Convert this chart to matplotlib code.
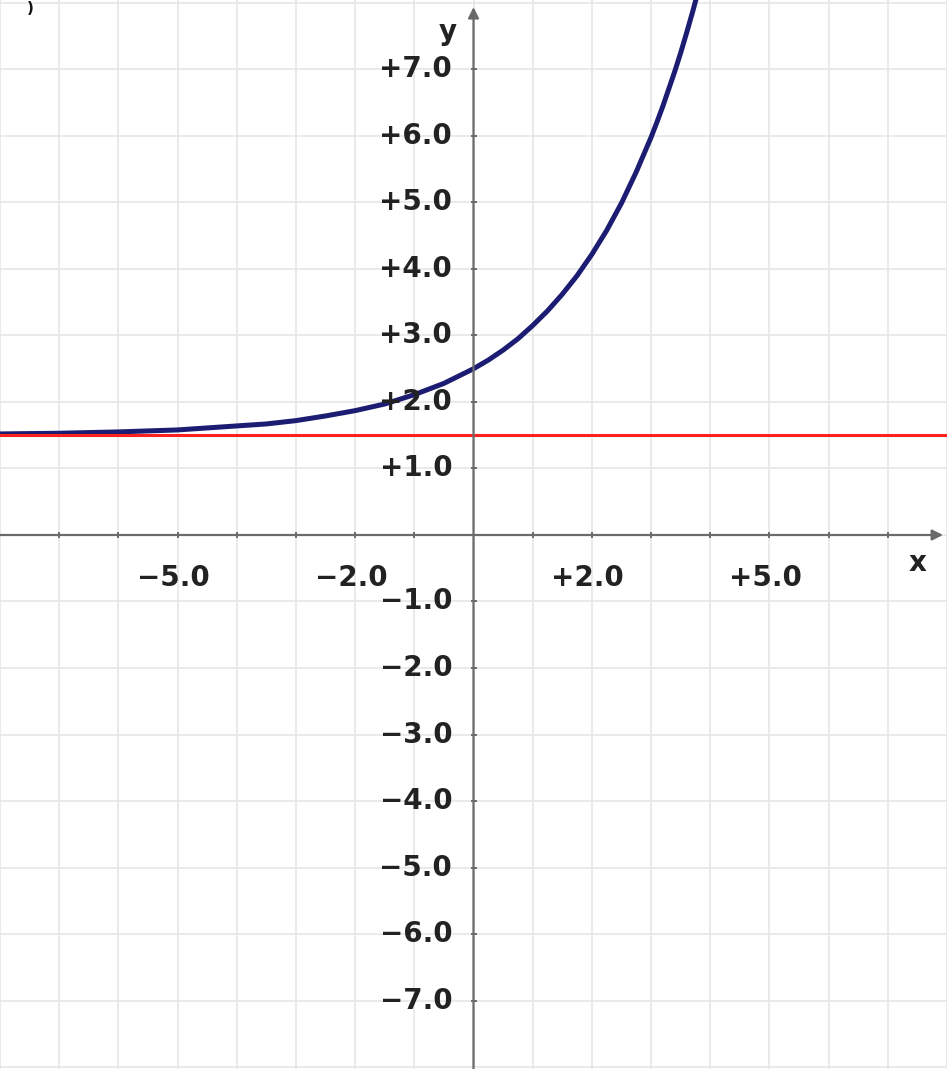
import matplotlib
matplotlib.use("Agg")
import matplotlib.pyplot as plt

# curve values (blue line)
curve_x = [-8, -7, -6, -5, -4, -3.5, -3, -2.5, -2, -1.5, -1, -0.5, 0, 0.25, 0.5, 0.75, 1,
           1.25, 1.5, 1.75, 2, 2.25, 2.5, 2.75, 3, 3.1, 3.2, 3.3, 3.4, 3.5, 3.6, 3.7, 3.8]
curve_y = [1.52, 1.53, 1.55, 1.58, 1.64, 1.67, 1.72, 1.79, 1.87, 1.97, 2.11, 2.28, 2.50, 2.63, 2.78, 2.95, 3.15,
           3.37, 3.62, 3.90, 4.22, 4.58, 4.99, 5.46, 5.98, 6.21, 6.45, 6.71, 6.97, 7.25, 7.55, 7.86, 8.19]
asymptote = 1.5  # red line

# tick labels
x_label_vals = [-5, -2, 2, 5]
y_label_vals = [7, 6, 5, 4, 3, 2, 1, -1, -2, -3, -4, -5, -6, -7]
grid_x = list(range(-8, 9))
grid_y = list(range(-8, 9))

def fmt(v):
    return ("+" if v > 0 else "\u2212") + "%.1f" % abs(v)

fig = plt.figure(figsize=(9.47, 10.69), dpi=100)
ax = fig.add_axes([0, 0, 1, 1])
ax.set_xlim(-8, 8)
ax.set_ylim(-8.03, 8.045)

#grid
ax.set_xticks(grid_x)
ax.set_yticks(grid_y)
ax.grid(True, color="#e6e6e6", lw=1.2)
ax.tick_params(length=0, labelbottom=False, labelleft=False)
for s in ax.spines.values():
    s.set_visible(False)

#axes with arrows
axcol = "#6a6a6a"
ax.annotate("", xy=(7.98, 0), xytext=(-8.1, 0),
            arrowprops=dict(arrowstyle="-|>", color=axcol, lw=1.6, mutation_scale=16))
ax.annotate("", xy=(0, 7.98), xytext=(0, -8.2),
            arrowprops=dict(arrowstyle="-|>", color=axcol, lw=1.6, mutation_scale=16))
ax.plot([v for v in grid_x if v not in (-8, 0, 8)], [0] * 14, "|", color=axcol, ms=5, mew=1.4)
ax.plot([0] * 14, [v for v in grid_y if v not in (-8, 0, 8)], "_", color=axcol, ms=5, mew=1.4)

#curves
ax.plot(curve_x, curve_y, color="#1c1c72", lw=3.6, solid_capstyle="round", solid_joinstyle="round")
ax.axhline(asymptote, color="#ff2020", lw=2.2)

#labels
tcol = "#222222"
for v in x_label_vals:
    ax.text(v - 0.07, -0.65, fmt(v), ha="center", va="center", fontsize=20,
            fontweight="bold", color=tcol)
for v in y_label_vals:
    ax.text(-0.36, v, fmt(v), ha="right", va="center", fontsize=20,
            fontweight="bold", color=tcol)
ax.text(-0.44, 7.56, "y", ha="center", va="center", fontsize=20, fontweight="bold", color=tcol)
ax.text(7.5, -0.42, "x", ha="center", va="center", fontsize=20, fontweight="bold", color=tcol)
fig.text(0.032, 0.999, ")", ha="center", va="top", fontsize=11, fontweight="bold", color="#111111")

fig.savefig("out.png", dpi=100)
